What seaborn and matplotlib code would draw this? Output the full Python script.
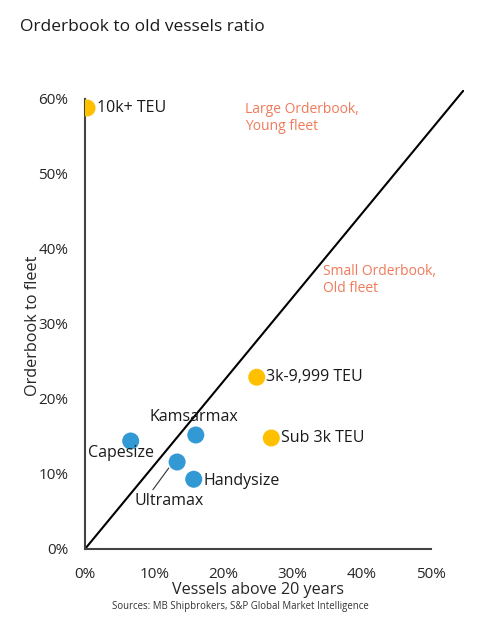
import pandas as pd
import seaborn as sns
import matplotlib.pyplot as plt

# segments
labels = ["10k+ TEU", "3k-9,999 TEU", "Sub 3k TEU", "Capesize", "Kamsarmax", "Ultramax", "Handysize"]
old_share = [0.003, 0.248, 0.269, 0.066, 0.160, 0.133, 0.157]
orderbook = [0.588, 0.229, 0.148, 0.144, 0.152, 0.116, 0.093]
segment = ["Container", "Container", "Container", "Dry bulk", "Dry bulk", "Dry bulk", "Dry bulk"]

line_x = [0, 0.547]
line_y = [0, 0.612]

xticks = [0, 0.1, 0.2, 0.3, 0.4, 0.5]
yticks = [0, 0.1, 0.2, 0.3, 0.4, 0.5, 0.6]

df = pd.DataFrame({"label": labels, "x": old_share, "y": orderbook, "segment": segment})

sns.set_style("white")
plt.rcParams["font.family"] = ["Open Sans", "DejaVu Sans"]

fig = plt.figure(figsize=(4.87, 6.28), dpi=100)
ax = fig.add_axes([0.1745, 0.1258, 0.778, 0.7309])

ax.plot(line_x, line_y, color="black", lw=1.5, zorder=1)
sns.scatterplot(data=df, x="x", y="y", hue="segment",
                palette={"Container": "#ffc000", "Dry bulk": "#3399d4"},
                s=150, edgecolor="none", legend=False, ax=ax, zorder=3)

# point labels (offsets in points)
offsets = {
    "10k+ TEU": (7, 0),
    "3k-9,999 TEU": (6.5, 0),
    "Sub 3k TEU": (7, 0),
    "Capesize": (-31, -9),
    "Kamsarmax": (-33, 13),
    "Handysize": (7, -1.5),
    "Ultramax": (-31, -28),
}
for _, r in df.iterrows():
    dx, dy = offsets[r["label"]]
    ax.annotate(r["label"], (r["x"], r["y"]), xytext=(dx, dy),
                textcoords="offset points", ha="left", va="center", fontsize=11.5, color="#1a1a1a")

# leader line for Ultramax
ax.plot([0.098, 0.121], [0.079, 0.108], color="#333333", lw=0.8, zorder=2)

ax.text(0.231, 0.596, "Large Orderbook,\nYoung fleet", color="#f07a5a", fontsize=10,
        va="top", ha="left", linespacing=1.2)
ax.text(0.343, 0.38, "Small Orderbook,\nOld fleet", color="#f07a5a", fontsize=10,
        va="top", ha="left", linespacing=1.2)

ax.set_xlim(0, 0.547)
ax.set_ylim(0, 0.612)
ax.set_xticks(xticks)
ax.set_yticks(yticks)
ax.set_xticklabels([f"{t:.0%}" for t in xticks], fontsize=11)
ax.set_yticklabels([f"{t:.0%}" for t in yticks], fontsize=11)
ax.tick_params(axis="x", length=0, pad=13)
ax.tick_params(axis="y", length=0, pad=12)
ax.set_xlabel("Vessels above 20 years", fontsize=11.6, va="center")
ax.set_ylabel("Orderbook to fleet", fontsize=11.7, va="center")
ax.xaxis.set_label_coords(0.4565, -0.0893)
ax.yaxis.set_label_coords(-0.137, 0.486)

sns.despine(ax=ax)
ax.spines["left"].set_bounds(0, 0.6)
ax.spines["bottom"].set_bounds(0, 0.5)
for s in ["left", "bottom"]:
    ax.spines[s].set_color("#444444")
    ax.spines[s].set_linewidth(1.5)

fig.text(20 / 487, 1 - 27 / 628, "Orderbook to old vessels ratio", fontsize=12.5,
         ha="left", va="center", color="#1a1a1a")
fig.text(240 / 487, 1 - 607 / 628, "Sources: MB Shipbrokers, S&P Global Market Intelligence",
         fontsize=6.9, ha="center", va="center", color="#333333")

fig.savefig("out.png", dpi=100)
